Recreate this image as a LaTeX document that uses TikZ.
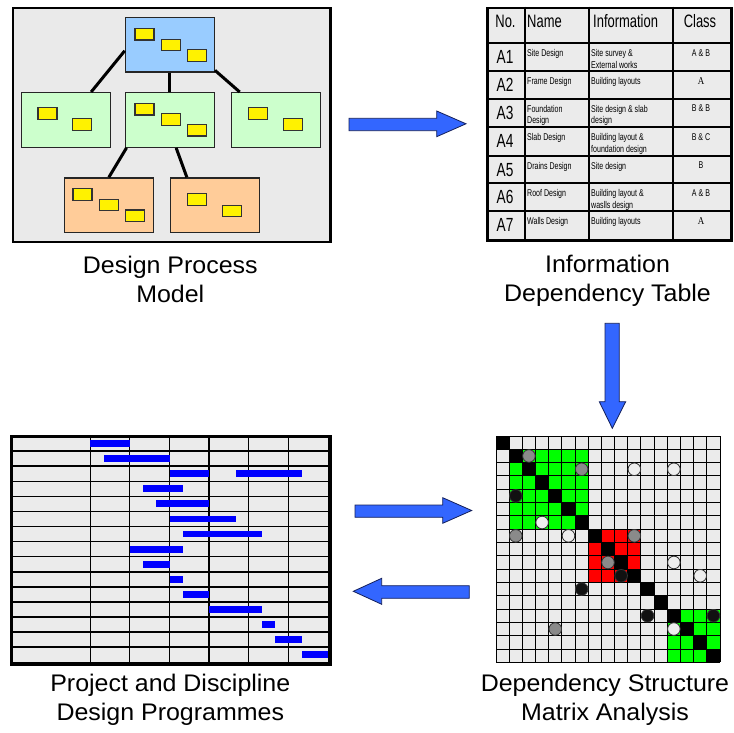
\documentclass[tikz,border=0pt]{standalone}
\usepackage{fontspec}
\setmainfont{Liberation Sans}
\newfontfamily\narrowfont[FakeStretch=0.72]{Liberation Sans}
\newfontfamily\narrowserif[FakeStretch=0.85]{Liberation Serif}
\newfontfamily\capfont[FakeStretch=1.04]{Liberation Sans}
\usetikzlibrary{calc}
\definecolor{panelgray}{HTML}{EAEAEA}
\definecolor{cellgray}{HTML}{EBEBEB}
\definecolor{bluebox}{HTML}{99CCFF}
\definecolor{greenbox}{HTML}{CCFFCC}
\definecolor{orangebox}{HTML}{FFCC99}
\definecolor{arrowblue}{HTML}{3366FF}
\definecolor{arrowedge}{HTML}{14205A}
\definecolor{barblue}{HTML}{0000FF}
\definecolor{dsmgreen}{HTML}{00FF00}
\definecolor{dsmred}{HTML}{FF0000}
\definecolor{dotgray}{HTML}{8A8A8A}
\definecolor{dotblack}{HTML}{111111}
\definecolor{dotwhite}{HTML}{EEEEEE}
\begin{document}
\begin{tikzpicture}[x=1pt,y=-1pt,
  panel/.style={draw=black, line width=2.4pt, fill=panelgray, anchor=north west, inner sep=0pt},
  modelbox/.style={draw=black!85, line width=1.3pt, minimum width=89pt, minimum height=54.6pt, inner sep=0pt, anchor=north west},
  note/.style={draw=black!80, fill=yellow, line width=1.2pt, minimum width=19pt, minimum height=11.5pt, inner sep=0pt, anchor=north west},
  link/.style={line width=3pt, draw=black},
  blockarrow/.style={fill=arrowblue, draw=arrowedge, line width=0.8pt, line join=miter},
  caption/.style={font=\capfont\fontsize{24}{29}\selectfont, align=center, anchor=north, inner sep=0pt},
  tabhead/.style={font=\narrowfont\fontsize{18}{20}\selectfont, inner sep=0pt},
  tabid/.style={font=\narrowfont\fontsize{19}{20}\selectfont, anchor=base, inner sep=0pt},
  tabtxt/.style={font=\narrowfont\fontsize{9.8}{11.8}\selectfont, align=left, anchor=north west, inner sep=0pt},
  tabcls/.style={font=\narrowfont\fontsize{9.8}{11.8}\selectfont, anchor=north, inner sep=0pt},
  tabline/.style={line width=1.8pt, draw=black},
  gline/.style={line width=1.5pt, draw=black},
  dline/.style={line width=0.9pt, draw=black},
  dsmdot/.style={draw=black!80, line width=0.8pt}
]
\useasboundingbox (0,0) rectangle (734,733);

% ---------------- Design process model ----------------
\node[panel, minimum width=317.6pt, minimum height=234pt] (model) at (11.7,6.7) {};
\node[modelbox, fill=bluebox] (top) at (124.7,16.7) {};
\node[modelbox, fill=greenbox] (gl) at (20.7,92) {};
\node[modelbox, fill=greenbox] (gm) at (124.7,92) {};
\node[modelbox, fill=greenbox] (gr) at (230.7,92) {};
\node[modelbox, fill=orangebox] (ol) at (63.7,177.3) {};
\node[modelbox, fill=orangebox] (or) at (169.7,177.3) {};
\draw[link] ($(top.north west)!0.61!(top.south west)$) -- ($(gl.north west)!0.78!(gl.north east)$);
\draw[link] (top.south) -- (gm.north);
\draw[link] ($(top.north east)!0.96!(top.south east)$) -- ($(gr.north west)!0.1!(gr.north east)$);
\draw[link] ($(gm.south west)!0.02!(gm.south east)$) -- (ol.north);
\draw[link] ($(gm.south west)!0.57!(gm.south east)$) -- ($(or.north west)!0.19!(or.north east)$);
\node[note] (n1) at (134.3,28) {};
\node[note] (n2) at (160.7,38.7) {};
\node[note] (n3) at (186.7,49.3) {};
\node[note] (n4) at (37.3,107.3) {};
\node[note] (n5) at (72,118.3) {};
\node[note] (n6) at (134.3,103) {};
\node[note] (n7) at (160.7,113.3) {};
\node[note] (n8) at (186.7,124) {};
\node[note] (n9) at (248,107.3) {};
\node[note] (n10) at (282.7,118.3) {};
\node[note] (n11) at (72.3,188.3) {};
\node[note] (n12) at (98.7,198.7) {};
\node[note] (n13) at (124.7,209.3) {};
\node[note] (n14) at (186.7,193.3) {};
\node[note] (n15) at (221.7,204.7) {};
\node[caption] (cap1) at (170.3,255.8) {Design Process\\Model};

% ---------------- Information dependency table ----------------
\node[panel, fill=cellgray, line width=2.6pt, minimum width=244pt, minimum height=232.3pt] (table) at (486,6.7) {};
\foreach \yy in {43.3,71,98.7,127.3,155.7,183.3,211}
  \draw[tabline] (486,\yy) -- (730,\yy);
\foreach \xx in {525,589,673.3}
  \draw[tabline] (\xx,6.7) -- (\xx,239);
\node[tabhead, anchor=base] (hno) at (505.5,27.3) {No.};
\node[tabhead, anchor=base west] (hname) at (527,27.3) {Name};
\node[tabhead, anchor=base west] (hinfo) at (593,27.3) {Information};
\node[tabhead, anchor=base] (hcls) at (700,27.3) {Class};
% A1
\node[tabid] (a1) at (505,64) {A1};
\node[tabtxt] (a1n) at (527,49.5) {Site Design};
\node[tabtxt] (a1i) at (591,49.5) {Site survey \&\\External works};
\node[tabcls] (a1c) at (701,49.5) {A \& B};
% A2
\node[tabid] (a2) at (505,91.7) {A2};
\node[tabtxt] (a2n) at (527,77.2) {Frame Design};
\node[tabtxt] (a2i) at (591,77.2) {Building layouts};
\node[tabcls, font=\narrowserif\fontsize{10.5}{12}\selectfont] (a2c) at (701,77.7) {A};
% A3
\node[tabid] (a3) at (505,119.4) {A3};
\node[tabtxt] (a3n) at (527,104.9) {Foundation\\Design};
\node[tabtxt] (a3i) at (591,104.9) {Site design \& slab\\design};
\node[tabcls] (a3c) at (701,104.9) {B \& B};
% A4
\node[tabid] (a4) at (505,148) {A4};
\node[tabtxt] (a4n) at (527,133.5) {Slab Design};
\node[tabtxt] (a4i) at (591,133.5) {Building layout \&\\foundation design};
\node[tabcls] (a4c) at (701,133.5) {B \& C};
% A5
\node[tabid] (a5) at (505,176.4) {A5};
\node[tabtxt] (a5n) at (527,161.9) {Drains Design};
\node[tabtxt] (a5i) at (591,161.9) {Site design};
\node[tabcls] (a5c) at (701,161.9) {B};
% A6
\node[tabid] (a6) at (505,204) {A6};
\node[tabtxt] (a6n) at (527,189.5) {Roof Design};
\node[tabtxt] (a6i) at (591,189.5) {Building layout \&\\waslls design};
\node[tabcls] (a6c) at (701,189.5) {A \& B};
% A7
\node[tabid] (a7) at (505,231.7) {A7};
\node[tabtxt] (a7n) at (527,217.2) {Walls Design};
\node[tabtxt] (a7i) at (591,217.2) {Building layouts};
\node[tabcls, font=\narrowserif\fontsize{10.5}{12}\selectfont] (a7c) at (701,217.7) {A};
\node[caption] (cap2) at (607.5,255.2) {Information\\Dependency Table};

% ---------------- Block arrows ----------------
\draw[blockarrow] (349,118.3) -- (436.7,118.3) -- (436.7,111) -- (466,123.8) -- (436.7,136.7) -- (436.7,130.7) -- (349,130.7) -- cycle;
\draw[blockarrow] (605,323.3) -- (619.3,323.3) -- (619.3,401.7) -- (625.7,401.7) -- (612.3,428.3) -- (599.3,401.7) -- (605,401.7) -- cycle;
\draw[blockarrow] (355,505) -- (442.7,505) -- (442.7,497.7) -- (471.7,510.5) -- (442.7,523.3) -- (442.7,517.3) -- (355,517.3) -- cycle;
\draw[blockarrow] (469.3,585.7) -- (381.7,585.7) -- (381.7,578.3) -- (353.3,591.3) -- (381.7,604.3) -- (381.7,598.3) -- (469.3,598.3) -- cycle;

% ---------------- Gantt chart ----------------
\node[panel, fill=cellgray, minimum width=317.3pt, minimum height=226.3pt] (gantt) at (11,436) {};
\foreach \k in {1,...,14}
  \draw[gline] (11,{436+\k*15.087}) -- (328.3,{436+\k*15.087});
\foreach \xx in {90.3,129.7,169.7,209,248.3,288.3}
  \draw[gline] (\xx,436) -- (\xx,662.3);
\foreach \r/\s/\e in {0/0/3, 1/1/6, 2/6/9, 2/11/16, 3/4/7, 4/5/9, 5/6/11, 6/7/13, 7/3/7, 8/4/6, 9/6/7, 10/7/9, 11/9/13, 12/13/14, 13/14/16, 14/16/18}
  \fill[barblue] ({90.3+\s*13.222},{443.5+\r*15.087-3.4}) rectangle ({90.3+\e*13.222},{443.5+\r*15.087+3.4});
\draw[line width=2.4pt] (gantt.north west) rectangle (gantt.south east);
\node[caption] (cap3) at (170.3,673.5) {Project and Discipline\\Design Programmes};

% ---------------- DSM ----------------
\def\cw{13.176}
\def\ch{13.312}
\fill[cellgray] (496,436) rectangle (720,662.3);
\fill[dsmgreen] ({496+1*\cw},{436+1*\ch}) rectangle ({496+7*\cw},{436+7*\ch});
\fill[dsmred] ({496+7*\cw},{436+7*\ch}) rectangle ({496+11*\cw},{436+11*\ch});
\fill[dsmgreen] ({496+13*\cw},{436+13*\ch}) rectangle ({496+17*\cw},{436+17*\ch});
\foreach \i in {0,...,16}
  \fill[black] ({496+\i*\cw},{436+\i*\ch}) rectangle ({496+(\i+1)*\cw},{436+(\i+1)*\ch});
\foreach \i in {0,...,17} {
  \draw[dline] ({496+\i*\cw},436) -- ({496+\i*\cw},662.3);
  \draw[dline] (496,{436+\i*\ch}) -- (720,{436+\i*\ch});
}
\foreach \r/\c in {1/2, 2/6, 7/1, 7/10, 9/8, 14/4}
  \filldraw[dsmdot, fill=dotgray] ({496+(\c+0.5)*\cw},{436+(\r+0.5)*\ch}) circle[radius=6.3pt];
\foreach \r/\c in {4/1, 10/9, 11/6, 13/11, 13/16}
  \filldraw[dsmdot, fill=dotblack] ({496+(\c+0.5)*\cw},{436+(\r+0.5)*\ch}) circle[radius=6.3pt];
\foreach \r/\c in {2/10, 2/13, 6/3, 7/5, 9/13, 10/15, 14/13}
  \filldraw[dsmdot, fill=dotwhite] ({496+(\c+0.5)*\cw},{436+(\r+0.5)*\ch}) circle[radius=6.3pt];
\node[caption] (cap4) at (605,673.5) {Dependency Structure\\Matrix Analysis};
\end{tikzpicture}
\end{document}
